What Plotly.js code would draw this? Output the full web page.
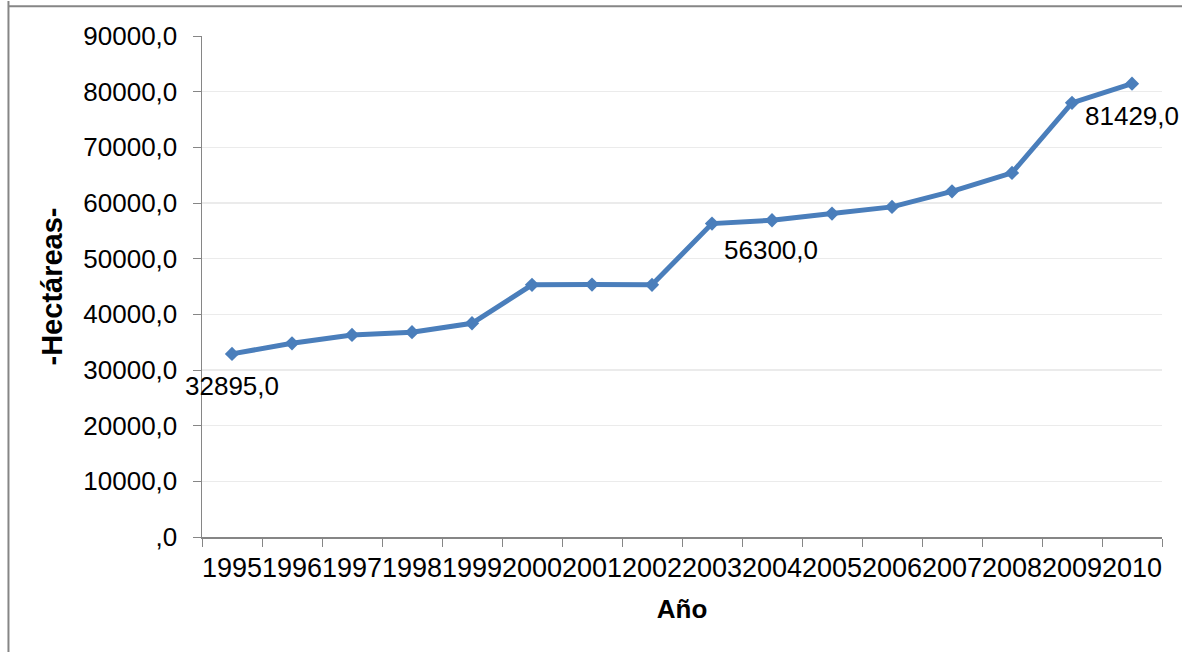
<!DOCTYPE html>
<html>
<head>
<meta charset="utf-8">
<script src="https://cdn.plot.ly/plotly-3.0.1.min.js"></script>
<style>html,body{margin:0;padding:0;background:#fff;}#chart{width:1182px;height:652px;}</style>
</head>
<body>
<div id="chart"></div>
<script>
var years = ['1995','1996','1997','1998','1999','2000','2001','2002','2003','2004','2005','2006','2007','2008','2009','2010'];
var hectareas = [32895, 34800, 36300, 36800, 38400, 45300, 45350, 45300, 56300, 56900, 58100, 59300, 62100, 65400, 78000, 81429];
var yTickVals = [0, 10000, 20000, 30000, 40000, 50000, 60000, 70000, 80000, 90000];
var yTickText = [',0', '10000,0', '20000,0', '30000,0', '40000,0', '50000,0', '60000,0', '70000,0', '80000,0', '90000,0'];
var labelIdx = [0, 8, 15];
var labelShift = [[0, -32], [59, -26], [0, -32]];

function fmt(v){ return v.toFixed(1).replace('.', ','); }

var font = 'Liberation Sans, Arial, sans-serif';
var annotations = labelIdx.map(function(i, k){
  return {x: i, y: hectareas[i], xref: 'x', yref: 'y', text: fmt(hectareas[i]),
    showarrow: false, xshift: labelShift[k][0], yshift: labelShift[k][1],
    font: {family: font, size: 26, color: '#000'}};
});

var trace = {
  x: years, y: hectareas, type: 'scatter', mode: 'lines+markers',
  line: {color: '#4a7ebb', width: 5},
  marker: {symbol: 'diamond', size: 11, color: '#4a7ebb'},
  hoverinfo: 'x+y'
};

var layout = {
  width: 1182, height: 652,
  margin: {l: 202, r: 20, t: 36, b: 115},
  paper_bgcolor: '#fff', plot_bgcolor: '#fff',
  showlegend: false,
  font: {family: font, size: 26, color: '#000'},
  xaxis: {
    type: 'category', categoryorder: 'array', categoryarray: years,
    range: [-0.5, years.length - 0.5], autorange: false,
    tickson: 'boundaries', ticks: 'outside', ticklen: 8, tickcolor: '#868686',
    showline: true, linecolor: '#868686', linewidth: 1.5, showgrid: false, zeroline: false,
    tickfont: {family: font, size: 27, color: '#000'}, tickangle: 0,
    ticklabelstandoff: 6,
    title: {text: '<b>Año</b>', font: {family: font, size: 26, color: '#000'}, standoff: 18}
  },
  yaxis: {
    range: [0, 90000], tickvals: yTickVals, ticktext: yTickText,
    ticks: 'outside', ticklen: 8, tickcolor: '#868686',
    showline: true, linecolor: '#868686', linewidth: 1.5,
    showgrid: true, gridcolor: '#ebebeb', gridwidth: 1.5, zeroline: false,
    tickfont: {family: font, size: 26, color: '#000'},
    ticklabelstandoff: 10,
    title: {text: '<b>-Hectáreas-</b>', font: {family: font, size: 29, color: '#000'}, standoff: 12}
  },
  annotations: annotations,
  shapes: [
    {type: 'line', xref: 'paper', yref: 'paper', x0: -0.2016, x1: -0.2016, y0: -0.3, y1: 1.07, line: {color: '#868686', width: 2}},
    {type: 'line', xref: 'paper', yref: 'paper', x0: -0.2016, x1: 1.1, y0: 1.0595, y1: 1.0595, line: {color: '#868686', width: 2}}
  ]
};

Plotly.newPlot('chart', [trace], layout, {displayModeBar: false, staticPlot: true});
</script>
</body>
</html>
